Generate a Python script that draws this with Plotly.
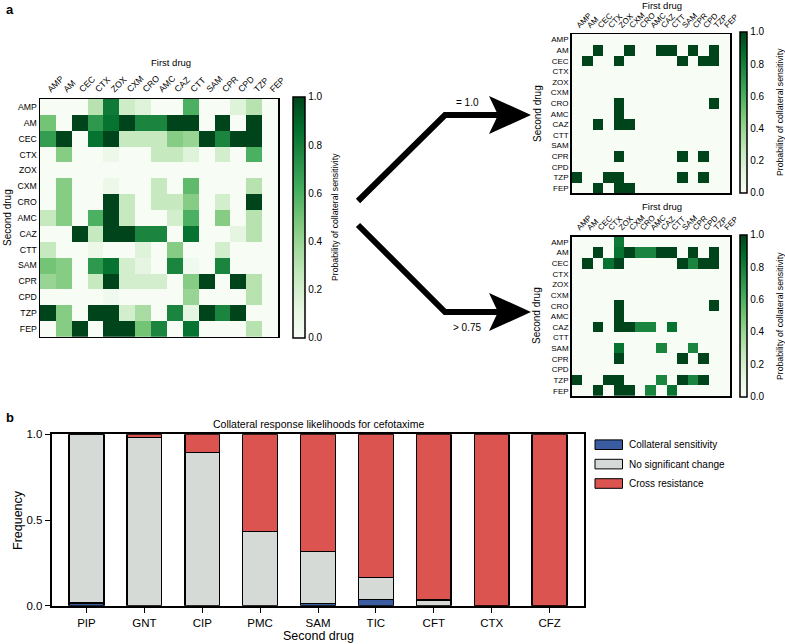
import plotly.graph_objects as go

# ---------------- data ----------------
drugs = ["AMP", "AM", "CEC", "CTX", "ZOX", "CXM", "CRO", "AMC", "CAZ", "CTT", "SAM", "CPR", "CPD", "TZP", "FEP"]

# probability of collateral sensitivity; one list per second drug (row), columns = first drug
row_AMP = [0, 0, 0, 0.3, 0.82, 0.22, 0.15, 0, 0, 0.6, 0, 0, 0.15, 0.3, 0]
row_AM = [0.5, 0, 1, 0.7, 0.85, 1, 0.78, 0.78, 1, 1, 0, 1, 0, 1, 0]
row_CEC = [0.68, 1, 0, 0.85, 1, 0.25, 0.25, 0.25, 0.45, 0.4, 1, 0.78, 1, 1, 0]
row_CTX = [0, 0.45, 0, 0, 0.07, 0, 0, 0.25, 0.25, 0.15, 0, 0.2, 0, 0.6, 0]
row_ZOX = [0, 0, 0, 0, 0, 0, 0, 0, 0, 0, 0, 0, 0, 0, 0]
row_CXM = [0, 0.45, 0, 0, 0.07, 0, 0, 0.25, 0, 0.55, 0, 0, 0, 0.3, 0]
row_CRO = [0, 0.45, 0, 0, 1, 0.25, 0, 0.25, 0.25, 0.45, 0, 0.2, 0, 1, 0]
row_AMC = [0.25, 0.45, 0, 0.6, 1, 0.25, 0, 0, 0.2, 0.6, 0, 0.45, 0, 0.3, 0]
row_CAZ = [0, 0, 1, 0.25, 1, 1, 0.78, 0.78, 0, 0.85, 0, 0, 0.12, 0.3, 0]
row_CTT = [0.25, 0, 0, 0.07, 0, 0, 0.15, 0, 0.45, 0, 0, 0.2, 0, 0, 0]
row_SAM = [0.5, 0.45, 0, 0.7, 0.85, 0.2, 0.12, 0, 0.78, 0.05, 0, 0.78, 0, 0, 0]
row_CPR = [0.4, 0.45, 0, 0.25, 1, 0.2, 0.2, 0.2, 0, 0.45, 1, 0, 1, 0.3, 0]
row_CPD = [0, 0, 0, 0, 0.05, 0, 0, 0, 0, 0.4, 0, 0, 0, 0.3, 0]
row_TZP = [1, 0.45, 0, 1, 1, 0.2, 0.35, 0, 0.78, 0.12, 1, 0.78, 1, 0, 0]
row_FEP = [0, 0.45, 1, 0, 1, 1, 0.5, 0.78, 0, 0.85, 0, 0, 0, 0.3, 0]

bar_drugs = ["PIP", "GNT", "CIP", "PMC", "SAM", "TIC", "CFT", "CTX", "CFZ"]
coll_sens = [0.015, 0, 0, 0, 0.012, 0.037, 0, 0, 0]
no_change = [0.985, 0.98, 0.895, 0.432, 0.303, 0.128, 0.033, 0, 0]
cross_res = [0, 0.02, 0.105, 0.568, 0.685, 0.835, 0.967, 1, 1]

# ---------------- helpers ----------------
W, H = 785, 644
def X(px):
    return px / W
def Y(py):
    return 1 - py / H

FONT = "Liberation Sans, Arial, sans-serif"
greens = [[0.0, "rgb(247,252,245)"], [0.125, "rgb(229,245,224)"], [0.25, "rgb(199,233,192)"],
          [0.375, "rgb(161,217,155)"], [0.5, "rgb(116,196,118)"], [0.625, "rgb(65,171,93)"],
          [0.75, "rgb(35,139,69)"], [0.875, "rgb(0,109,44)"], [1.0, "rgb(0,68,27)"]]

matrix = [row_AMP, row_AM, row_CEC, row_CTX, row_ZOX, row_CXM, row_CRO, row_AMC, row_CAZ,
          row_CTT, row_SAM, row_CPR, row_CPD, row_TZP, row_FEP]
eq_one = [[v if v >= 1.0 else 0 for v in r] for r in matrix]
gt_075 = [[v if v > 0.75 else 0 for v in r] for r in matrix]

def cbar(x, ytop, ybot, thick):
    return dict(x=X(x), xanchor="left", xpad=0, y=Y((ytop + ybot) / 2), yanchor="middle", ypad=0,
                len=ybot - ytop, lenmode="pixels", thickness=thick, outlinewidth=1.5,
                outlinecolor="black", tickvals=[0, 0.2, 0.4, 0.6, 0.8, 1.0], tickformat=".1f",
                ticks="", tickfont=dict(size=10, family=FONT, color="black"))

fig = go.Figure()
fig.add_trace(go.Heatmap(z=matrix, x=drugs, y=drugs, colorscale=greens, zmin=0, zmax=1,
                         xaxis="x", yaxis="y", colorbar=cbar(292.7, 96.7, 338, 12)))
fig.add_trace(go.Heatmap(z=eq_one, x=drugs, y=drugs, colorscale=greens, zmin=0, zmax=1,
                         xaxis="x2", yaxis="y2", colorbar=cbar(739.5, 31.7, 193, 7)))
fig.add_trace(go.Heatmap(z=gt_075, x=drugs, y=drugs, colorscale=greens, zmin=0, zmax=1,
                         xaxis="x3", yaxis="y3", colorbar=cbar(739.5, 235, 396.5, 7)))

bar_line = dict(color="black", width=1.5)
fig.add_trace(go.Bar(x=bar_drugs, y=coll_sens, marker=dict(color="#3a5ca0", line=bar_line),
                     xaxis="x4", yaxis="y4", name="Collateral sensitivity"))
fig.add_trace(go.Bar(x=bar_drugs, y=no_change, marker=dict(color="#d5dad6", line=bar_line),
                     xaxis="x4", yaxis="y4", name="No significant change"))
fig.add_trace(go.Bar(x=bar_drugs, y=cross_res, marker=dict(color="#db5450", line=bar_line),
                     xaxis="x4", yaxis="y4", name="Cross resistance"))

def hm_axes(x0, x1, y0, y1, fsize):
    xa = dict(domain=[X(x0), X(x1)], side="top", tickangle=-45, showgrid=False, zeroline=False,
              showline=True, mirror=True, linecolor="black", linewidth=1.5, ticks="",
              tickfont=dict(size=fsize, family=FONT, color="black"), fixedrange=True)
    ya = dict(domain=[Y(y1), Y(y0)], autorange="reversed", showgrid=False, zeroline=False,
              showline=True, mirror=True, linecolor="black", linewidth=1.5, ticks="",
              tickfont=dict(size=fsize, family=FONT, color="black"), fixedrange=True)
    return xa, ya

xa1, ya1 = hm_axes(40, 278.3, 99, 336.7, 8.7)
xa2, ya2 = hm_axes(571.7, 730, 34.3, 193.3, 8)
xa3, ya3 = hm_axes(571.7, 730, 236.7, 396, 8)
xa1["anchor"] = "y"; ya1["anchor"] = "x"
xa2["anchor"] = "y2"; ya2["anchor"] = "x2"
xa3["anchor"] = "y3"; ya3["anchor"] = "x3"

xa4 = dict(domain=[X(51.7), X(584.3)], anchor="y4", range=[-0.6, 8.6], showline=True, mirror=True,
           linecolor="black", linewidth=2, ticks="outside", ticklen=5, tickcolor="black",
           tickfont=dict(size=11.5, family=FONT, color="black"), showgrid=False, zeroline=False)
ya4 = dict(domain=[Y(605.7), Y(434.3)], anchor="x4", range=[0, 1], showline=True, mirror=True,
           linecolor="black", linewidth=2, ticks="outside", ticklen=5, tickcolor="black",
           tickvals=[0, 0.5, 1.0], tickformat=".1f",
           tickfont=dict(size=11.5, family=FONT, color="black"), showgrid=False, zeroline=False)

def ann(text, x, y, size, angle=0, bold=False, xanchor="center"):
    t = f"<b>{text}</b>" if bold else text
    return dict(text=t, x=X(x), y=Y(y), xref="paper", yref="paper", showarrow=False,
                textangle=angle, xanchor=xanchor, yanchor="middle",
                font=dict(size=size, family=FONT, color="black"))

cb_title = "Probability of collateral sensitivity"
annotations = [
    ann("a", 4, 9, 13, bold=True, xanchor="left"),
    ann("b", 4, 418, 13, bold=True, xanchor="left"),
    ann("First drug", 171, 63, 9.5),
    ann("Second drug", 8, 218, 10, angle=-90),
    ann("First drug", 662, 6, 9.5),
    ann("Second drug", 537, 114, 10, angle=-90),
    ann("First drug", 662, 207, 9.5),
    ann("Second drug", 537, 316, 10, angle=-90),
    ann(cb_title, 335, 217, 8.7, angle=-90),
    ann(cb_title, 780, 112, 8.7, angle=-90),
    ann(cb_title, 780, 316, 8.7, angle=-90),
    ann("= 1.0", 467, 102, 10),
    ann("&gt; 0.75", 467, 327, 10),
    ann("Collateral response likelihoods for cefotaxime", 318, 424, 10.5),
    ann("Frequency", 18, 520, 12.5, angle=-90),
    ann("Second drug", 318, 636, 12.5),
]

shapes = []
# arrows
for (sx, sy, cy) in [(358, 201, 115), (358, 225, 312)]:
    shapes.append(dict(type="path", xref="paper", yref="paper",
                       path=f"M {X(sx)},{Y(sy)} L {X(445)},{Y(cy)} L {X(500)},{Y(cy)}",
                       line=dict(color="black", width=6), fillcolor="rgba(0,0,0,0)"))
    shapes.append(dict(type="path", xref="paper", yref="paper",
                       path=(f"M {X(531)},{Y(cy)} L {X(489)},{Y(cy - 19)} L {X(498)},{Y(cy)} "
                             f"L {X(489)},{Y(cy + 19)} Z"),
                       line=dict(color="black", width=0), fillcolor="black"))

# manual legend for bar chart
legend_items = [("Collateral sensitivity", "#3a5ca0"), ("No significant change", "#d5dad6"),
                ("Cross resistance", "#db5450")]
for i, (label, col) in enumerate(legend_items):
    cy = 444.7 + i * 19.4
    shapes.append(dict(type="rect", xref="paper", yref="paper", x0=X(595), x1=X(622.5),
                       y0=Y(cy + 4.8), y1=Y(cy - 4.8), fillcolor=col,
                       line=dict(color="black", width=1)))
    annotations.append(ann(label, 627, cy, 10, xanchor="left"))

fig.update_layout(
    width=W, height=H, margin=dict(l=0, r=0, t=0, b=0, autoexpand=False),
    paper_bgcolor="white", plot_bgcolor="white", barmode="stack", bargap=0.4,
    showlegend=False, font=dict(family=FONT, color="black"), hovermode=False,
    xaxis=xa1, yaxis=ya1, xaxis2=xa2, yaxis2=ya2, xaxis3=xa3, yaxis3=ya3,
    xaxis4=xa4, yaxis4=ya4, annotations=annotations, shapes=shapes,
)

fig.write_html("out.html", config={"displayModeBar": False, "staticPlot": True},
               post_script="document.body.style.margin='0';document.body.style.overflow='hidden';")
